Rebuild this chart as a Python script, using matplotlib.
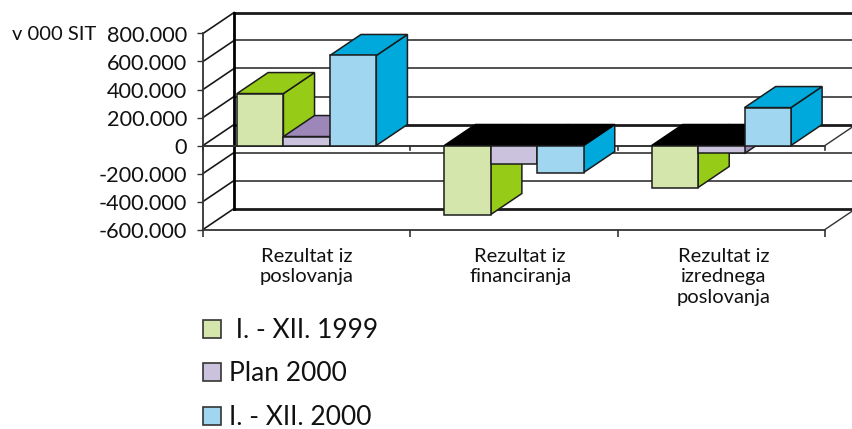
import matplotlib
matplotlib.use("Agg")
import matplotlib.pyplot as plt
from matplotlib.patches import Patch, Polygon

categories = ["Rezultat iz\nposlovanja", "Rezultat iz\nfinanciranja", "Rezultat iz\nizrednega\nposlovanja"]
series_names = [" I. - XII. 1999", "Plan 2000", "I. - XII. 2000"]
rezultat_1999 = [371000, -493000, -300000]
plan_2000 = [64000, -130000, -57000]
rezultat_2000 = [643000, -193000, 271000]
y_ticks = [800000, 600000, 400000, 200000, 0, -200000, -400000, -600000]
y_labels = ["800.000", "600.000", "400.000", "200.000", "0", "-200.000", "-400.000", "-600.000"]
label_pos = [0.50, 1.53, 2.51]

front_colors = ["#D5E6AD", "#CBC3DD", "#A0D6EF"]
side_colors = ["#96CC18", "#9D86B8", "#00A9DC"]
EDGE = "#1c1c1c"
DEPTH_X = 0.15
DEPTH_Y = 150000
BAR_W = 0.224
GAP = 0.164

plt.rcParams["font.family"] = ["Lato", "DejaVu Sans"]
W, H = 852, 429
fig = plt.figure(figsize=(W / 100, H / 100), dpi=100)
ax = fig.add_axes([203 / W, (H - 229.5) / H, 622 / W, 196 / H])
ax.set_xlim(0, 3)
ax.set_ylim(-600000, 800000)


def draw_box(x0, value, i):
    x1 = x0 + BAR_W
    kw = dict(linewidth=1.1, clip_on=False, joinstyle="miter")
    # bok
    ax.add_patch(Polygon([(x1, 0), (x1 + DEPTH_X, DEPTH_Y), (x1 + DEPTH_X, value + DEPTH_Y), (x1, value)],
                         facecolor=side_colors[i], edgecolor=EDGE, zorder=5, **kw))
    # vrh, pri negativnih je crn
    top = max(value, 0)
    top_color = side_colors[i] if value > 0 else "black"
    top_edge = EDGE if value > 0 else "black"
    ax.add_patch(Polygon([(x0, top), (x1, top), (x1 + DEPTH_X, top + DEPTH_Y), (x0 + DEPTH_X, top + DEPTH_Y)],
                         facecolor=top_color, edgecolor=top_edge, zorder=5, **kw))
    # spredaj
    ax.add_patch(Polygon([(x0, 0), (x1, 0), (x1, value), (x0, value)],
                         facecolor=front_colors[i], edgecolor=EDGE, zorder=5, **kw))


# stene
for v in y_ticks:
    thick = v in (800000, 0, -600000)
    ax.plot([DEPTH_X, 3.2], [v + DEPTH_Y, v + DEPTH_Y], color="#1a1a1a" if thick else "#333333",
            lw=2.0 if thick else 1.2, clip_on=False, zorder=1)
    ax.plot([0, DEPTH_X], [v, v + DEPTH_Y], color="#1a1a1a", lw=1.2, clip_on=False, zorder=1)
ax.plot([DEPTH_X, DEPTH_X], [-600000 + DEPTH_Y, 800000 + DEPTH_Y], color="black", lw=2.0, clip_on=False, zorder=1)
for v in (0, -600000):
    ax.plot([3, 3 + DEPTH_X], [v, v + DEPTH_Y], color="#333333", lw=1.0, clip_on=False, zorder=1)
ax.axhline(0, color="#333333", lw=1.4, zorder=2)
for x in range(4):
    ax.plot([x, x], [-35000, 0], color="#333333", lw=1.2, clip_on=False, zorder=2)

all_series = [rezultat_1999, plan_2000, rezultat_2000]
for g in range(3):
    for i, values in enumerate(all_series):
        draw_box(g + GAP + i * BAR_W, values[g], i)

for s in ("top", "right"):
    ax.spines[s].set_visible(False)
for s in ("left", "bottom"):
    ax.spines[s].set_color("#333333")
    ax.spines[s].set_linewidth(1.3)

ax.set_yticks(y_ticks, y_labels, fontsize=15.6, color="#111111")
ax.tick_params(axis="y", length=4.3, width=1.0, color="#333333", pad=7)
ax.set_xticks([0, 1, 2, 3], [""] * 4)
ax.tick_params(axis="x", length=5, width=1.2, color="#333333")
ax.set_xticks(label_pos, categories, minor=True, fontsize=14.5, color="#111111", linespacing=1.26)
ax.tick_params(axis="x", which="minor", length=0, pad=13)

fig.text(12 / W, 1 - 35 / H, "v 000 SIT", fontsize=14.5, color="#111111", va="center")

handles = [Patch(facecolor=c, edgecolor="#333333", linewidth=1.2) for c in front_colors]
fig.legend(handles, series_names, loc="upper left", bbox_to_anchor=(203 / W, 1 - 318 / H), frameon=False,
           fontsize=19, handlelength=0.68, handleheight=0.68, handletextpad=0.3,
           labelspacing=0.70, borderpad=0, borderaxespad=0, labelcolor="#111111")

fig.savefig("out.png", dpi=100)
